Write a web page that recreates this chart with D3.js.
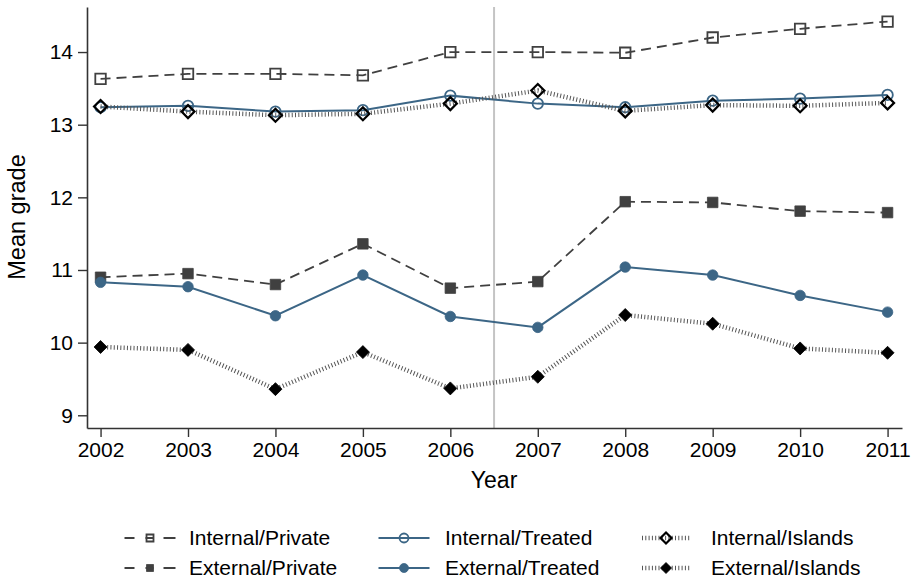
<!DOCTYPE html>
<html>
<head>
<meta charset="utf-8">
<script src="https://cdn.jsdelivr.net/npm/d3@7"></script>
<style>
  body { margin: 0; background: #fff; }
  svg { display: block; font-family: "Liberation Sans", Arial, sans-serif; }
</style>
</head>
<body>
<div id="chart"></div>
<script>
// values
const years = [2002, 2003, 2004, 2005, 2006, 2007, 2008, 2009, 2010, 2011];
const internalPrivate = [13.63, 13.70, 13.70, 13.68, 14.00, 14.00, 13.99, 14.20, 14.32, 14.42];
const internalTreated = [13.24, 13.26, 13.18, 13.20, 13.40, 13.29, 13.24, 13.33, 13.36, 13.41];
const internalIslands = [13.25, 13.18, 13.13, 13.15, 13.29, 13.47, 13.19, 13.27, 13.26, 13.30];
const externalPrivate = [10.90, 10.95, 10.80, 11.36, 10.75, 10.84, 11.94, 11.93, 11.81, 11.79];
const externalTreated = [10.83, 10.77, 10.37, 10.93, 10.36, 10.21, 11.04, 10.93, 10.65, 10.42];
const externalIslands = [9.94, 9.90, 9.36, 9.87, 9.37, 9.53, 10.38, 10.26, 9.92, 9.86];
const yTicks = [9, 10, 11, 12, 13, 14];
const reformYear = 2006.5;

const W = 915, H = 582;
const margin = { left: 87, right: 13, top: 7, bottom: 154 };

const grey = "#404040", blue = "#3c6686";

// style per series (kept apart from the values)
const series = [
  { name: "Internal/Private", values: internalPrivate, line: grey, dash: "10,6", width: 1.8, shape: "square", filled: false, mcolor: grey },
  { name: "Internal/Treated", values: internalTreated, line: blue, dash: null, width: 2, shape: "circle", filled: false, mcolor: blue },
  { name: "Internal/Islands", values: internalIslands, line: "#555", dash: "1,2.3", width: 4.5, shape: "diamond", filled: false, mcolor: "#000" },
  { name: "External/Private", values: externalPrivate, line: grey, dash: "10,6", width: 1.8, shape: "square", filled: true, mcolor: grey },
  { name: "External/Treated", values: externalTreated, line: blue, dash: null, width: 2, shape: "circle", filled: true, mcolor: blue },
  { name: "External/Islands", values: externalIslands, line: "#555", dash: "1,2.3", width: 4.5, shape: "diamond", filled: true, mcolor: "#000" }
];

const svg = d3.select("#chart").append("svg")
  .attr("width", W).attr("height", H);

const x = d3.scaleLinear()
  .domain([2001.845, 2011.165])
  .range([margin.left, W - margin.right]);
const y = d3.scaleLinear()
  .domain([8.825, 14.62])
  .range([H - margin.bottom, margin.top]);

// reform line
svg.append("line")
  .attr("x1", x(reformYear)).attr("x2", x(reformYear))
  .attr("y1", y.range()[1]).attr("y2", y.range()[0])
  .attr("stroke", "#c4c4c4").attr("stroke-width", 2);

// axes
const fs = 21;
const yAxis = svg.append("g")
  .attr("transform", `translate(${margin.left},0)`)
  .call(d3.axisLeft(y).tickValues(yTicks).tickFormat(d3.format("d")).tickSize(9).tickPadding(5).tickSizeOuter(0));
const xAxis = svg.append("g")
  .attr("transform", `translate(0,${H - margin.bottom})`)
  .call(d3.axisBottom(x).tickValues(years).tickFormat(d3.format("d")).tickSize(9).tickPadding(5).tickSizeOuter(0));

[yAxis, xAxis].forEach(g => {
  g.select(".domain").attr("stroke", "#333").attr("stroke-width", 1.6);
  g.selectAll(".tick line").attr("stroke", "#333").attr("stroke-width", 1.4);
  g.selectAll(".tick text").attr("fill", "#000").style("font-size", fs + "px")
    .style("font-family", "'Liberation Sans', Arial, sans-serif");
});

svg.append("text")
  .attr("transform", "translate(25,217) rotate(-90)")
  .attr("text-anchor", "middle")
  .style("font-size", "23.5px").text("Mean grade");

svg.append("text")
  .attr("x", x(2006.5)).attr("y", 488)
  .attr("text-anchor", "middle")
  .style("font-size", "23px").text("Year");

// marker paths
function markerPath(shape, size) {
  if (shape === "square") return d3.symbol(d3.symbolSquare, size * size)();
  if (shape === "circle") return d3.symbol(d3.symbolCircle, Math.PI * size * size / 4)();
  // diamond: square turned 45 degrees
  const h = size / 2;
  return `M0,${-h}L${h},0L0,${h}L${-h},0Z`;
}
const markerSize = { square: 10.5, circle: 10.5, diamond: 13 };
const legendMarkerSize = { square: 7, circle: 9, diamond: 11 };

function drawMarker(g, s, size) {
  g.append("path")
    .attr("d", markerPath(s.shape, size))
    .attr("fill", s.filled ? s.mcolor : "none")
    .attr("stroke", s.mcolor)
    .attr("stroke-width", s.filled ? 0.8 : (s.shape === "diamond" ? 2.2 : 1.8));
}

const lineGen = d3.line()
  .x((d, i) => x(years[i]))
  .y(d => y(d));

series.forEach(s => {
  svg.append("path")
    .datum(s.values)
    .attr("d", lineGen)
    .attr("fill", "none")
    .attr("stroke", s.line)
    .attr("stroke-width", s.width)
    .attr("stroke-dasharray", s.dash);

  s.values.forEach((v, i) => {
    const g = svg.append("g").attr("transform", `translate(${x(years[i])},${y(v)})`);
    drawMarker(g, s, markerSize[s.shape]);
  });
});

// legend: 3 columns x 2 rows
const legendSymX = [150, 404, 666];
const legendTextX = [189, 445, 711];
const legendRows = [538, 568];
series.forEach((s, idx) => {
  const col = idx % 3, row = Math.floor(idx / 3);
  const g = svg.append("g").attr("transform", `translate(${legendSymX[col]},${legendRows[row]})`);
  const half = s.shape === "diamond" ? 24 : 25.5;
  g.append("line")
    .attr("x1", -half).attr("x2", half).attr("y1", 0).attr("y2", 0)
    .attr("stroke", s.line)
    .attr("stroke-width", s.width)
    .attr("stroke-dasharray", s.dash ? (s.shape === "square" ? "10,11,8,10,12" : s.dash) : null);
  drawMarker(g, s, legendMarkerSize[s.shape]);
  g.append("text")
    .attr("x", legendTextX[col] - legendSymX[col]).attr("y", 0).attr("dy", "0.35em")
    .style("font-size", "21px").text(s.name);
});
</script>
</body>
</html>
